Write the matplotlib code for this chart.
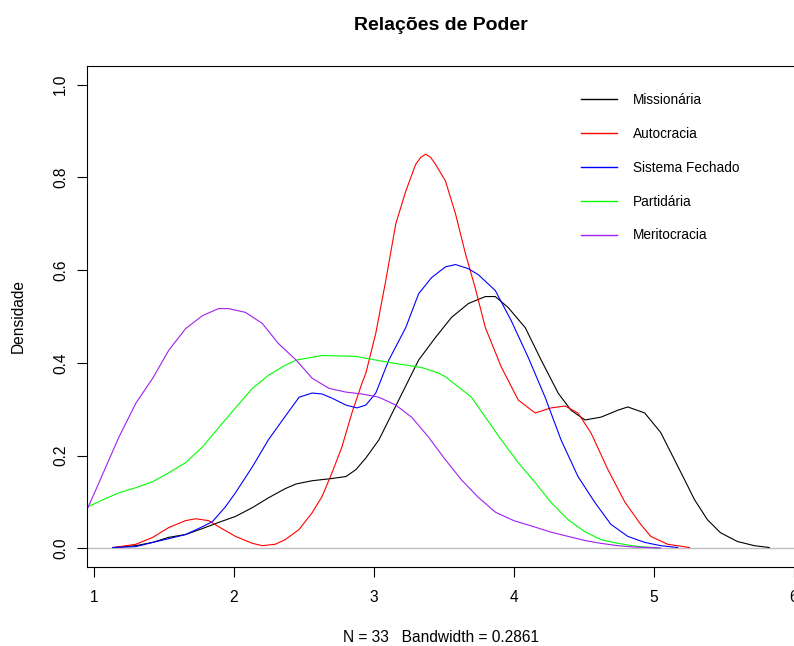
import matplotlib
matplotlib.use("Agg")
import matplotlib.pyplot as plt

plt.rcParams['font.family'] = ['Liberation Sans', 'DejaVu Sans']

title = "Relações de Poder"
xlabel = "N = 33   Bandwidth = 0.2861"
ylabel = "Densidade"
names = ["Missionária", "Autocracia", "Sistema Fechado", "Partidária", "Meritocracia"]
colors = ["#000000", "#FF0000", "#0000FF", "#00FF00", "#A020F0"]
xticks = [1, 2, 3, 4, 5, 6]
yticks = [0.0, 0.2, 0.4, 0.6, 0.8, 1.0]

x_miss = [1.135, 1.299, 1.420, 1.534, 1.655, 1.776, 1.890, 2.011, 2.132, 2.246, 2.367, 2.445,
          2.559, 2.680, 2.801, 2.872, 2.943, 3.036, 3.107, 3.178, 3.249, 3.320, 3.441, 3.555,
          3.676, 3.797, 3.868, 3.961, 4.082, 4.196, 4.317, 4.409, 4.509, 4.623, 4.744, 4.815,
          4.936, 5.050, 5.149, 5.221, 5.292, 5.384, 5.477, 5.598, 5.719, 5.826]
y_miss = [0.002, 0.006, 0.013, 0.024, 0.030, 0.043, 0.056, 0.069, 0.088, 0.109, 0.129, 0.139,
          0.146, 0.150, 0.155, 0.170, 0.195, 0.234, 0.277, 0.320, 0.363, 0.406, 0.455, 0.498,
          0.528, 0.543, 0.543, 0.519, 0.476, 0.406, 0.335, 0.298, 0.277, 0.283, 0.298, 0.305,
          0.292, 0.250, 0.191, 0.148, 0.105, 0.062, 0.034, 0.015, 0.006, 0.002]

x_auto = [1.142, 1.299, 1.420, 1.534, 1.655, 1.726, 1.819, 1.890, 2.011, 2.132, 2.203, 2.295,
          2.367, 2.466, 2.559, 2.630, 2.701, 2.772, 2.843, 2.915, 2.943, 3.014, 3.085, 3.157,
          3.228, 3.299, 3.335, 3.370, 3.406, 3.441, 3.512, 3.584, 3.655, 3.726, 3.797, 3.911,
          4.032, 4.153, 4.267, 4.367, 4.459, 4.552, 4.673, 4.794, 4.907, 4.979, 5.100, 5.256]
y_auto = [0.002, 0.009, 0.024, 0.045, 0.060, 0.064, 0.060, 0.047, 0.026, 0.011, 0.006, 0.009,
          0.019, 0.041, 0.077, 0.112, 0.163, 0.219, 0.292, 0.356, 0.378, 0.464, 0.577, 0.700,
          0.770, 0.828, 0.843, 0.850, 0.843, 0.828, 0.792, 0.721, 0.635, 0.560, 0.476, 0.391,
          0.320, 0.292, 0.303, 0.307, 0.292, 0.249, 0.170, 0.100, 0.052, 0.026, 0.009, 0.002]

x_sist = [1.135, 1.299, 1.420, 1.534, 1.655, 1.776, 1.847, 1.940, 2.011, 2.132, 2.246, 2.367,
          2.466, 2.559, 2.630, 2.701, 2.801, 2.879, 2.943, 3.014, 3.107, 3.228, 3.320, 3.413,
          3.512, 3.584, 3.676, 3.747, 3.868, 3.982, 4.103, 4.224, 4.338, 4.459, 4.580, 4.694,
          4.815, 4.936, 5.050, 5.171]
y_sist = [0.002, 0.004, 0.013, 0.021, 0.030, 0.047, 0.058, 0.090, 0.120, 0.176, 0.234, 0.285,
          0.326, 0.335, 0.333, 0.324, 0.309, 0.303, 0.309, 0.335, 0.406, 0.476, 0.549, 0.584,
          0.607, 0.612, 0.603, 0.590, 0.556, 0.491, 0.412, 0.326, 0.234, 0.155, 0.099, 0.052,
          0.026, 0.013, 0.006, 0.002]

x_part = [0.90, 0.943, 1.064, 1.178, 1.299, 1.420, 1.534, 1.655, 1.776, 1.890, 2.011, 2.132,
          2.246, 2.367, 2.445, 2.630, 2.872, 3.107, 3.342, 3.463, 3.512, 3.698, 3.797, 3.911,
          4.032, 4.153, 4.267, 4.388, 4.509, 4.623, 4.744, 4.865, 5.03]
y_part = [0.080, 0.088, 0.105, 0.120, 0.131, 0.144, 0.163, 0.185, 0.219, 0.260, 0.303, 0.345,
          0.373, 0.395, 0.406, 0.416, 0.414, 0.401, 0.390, 0.378, 0.370, 0.326, 0.283, 0.234,
          0.185, 0.142, 0.099, 0.062, 0.036, 0.019, 0.011, 0.005, 0.001]

x_meri = [0.90, 0.943, 1.014, 1.085, 1.178, 1.299, 1.420, 1.534, 1.655, 1.776, 1.890, 1.961,
          2.082, 2.203, 2.317, 2.445, 2.559, 2.680, 2.801, 2.915, 3.036, 3.157, 3.270, 3.391,
          3.512, 3.626, 3.747, 3.870, 4.000, 4.153, 4.267, 4.388, 4.509, 4.623, 4.744, 4.865, 5.05]
y_meri = [0.060, 0.079, 0.127, 0.176, 0.240, 0.313, 0.367, 0.427, 0.474, 0.502, 0.517, 0.517,
          0.509, 0.485, 0.442, 0.406, 0.367, 0.345, 0.337, 0.333, 0.326, 0.309, 0.283, 0.240,
          0.191, 0.148, 0.110, 0.078, 0.060, 0.046, 0.035, 0.026, 0.017, 0.011, 0.006, 0.003, 0.001]

series = [(x_miss, y_miss), (x_auto, y_auto), (x_sist, y_sist), (x_part, y_part), (x_meri, y_meri)]

W, H = 794, 646
fig = plt.figure(figsize=(W / 100, H / 100), dpi=100)
left, right, top, bottom = 87, 795, 66, 567
ax = fig.add_axes([left / W, 1 - bottom / H, (right - left) / W, (bottom - top) / H])

ax.axhline(0, color="#BEBEBE", lw=1.0, zorder=1)
for (xs, ys), c, n in zip(series, colors, names):
    ax.plot(xs, ys, color=c, lw=0.8, label=n, zorder=2)

ax.set_xlim(0.95, 6.01)
ax.set_ylim(-0.04, 1.04)
ax.set_xticks(xticks)
ax.set_xticklabels([str(t) for t in xticks])
ax.set_yticks(yticks)
ax.set_yticklabels([f"{t:.1f}" for t in yticks], rotation=90, va="center")
ax.tick_params(direction="out", length=7, width=0.8, labelsize=11.2, colors="#000000")
ax.tick_params(axis="x", pad=9.5)
ax.tick_params(axis="y", pad=6.5)
for s in ax.spines.values():
    s.set_linewidth(0.8)

fig.text(441 / W, 1 - 25 / H, title, ha="center", va="center", fontsize=14, fontweight="bold")
fig.text(441 / W, 1 - 637 / H, xlabel, ha="center", va="center", fontsize=11.2)
fig.text(18 / W, 1 - 316 / H, ylabel, ha="center", va="center", rotation=90, fontsize=11.2)

leg = ax.legend(loc="upper left", bbox_to_anchor=(581 / W, 1 - 93 / H), bbox_transform=fig.transFigure,
                frameon=False, fontsize=9.8, handlelength=2.65, handletextpad=1.18, labelspacing=1.46,
                borderaxespad=0, borderpad=0)
for line in leg.get_lines():
    line.set_linewidth(1.0)

fig.savefig("out.png", dpi=100)
